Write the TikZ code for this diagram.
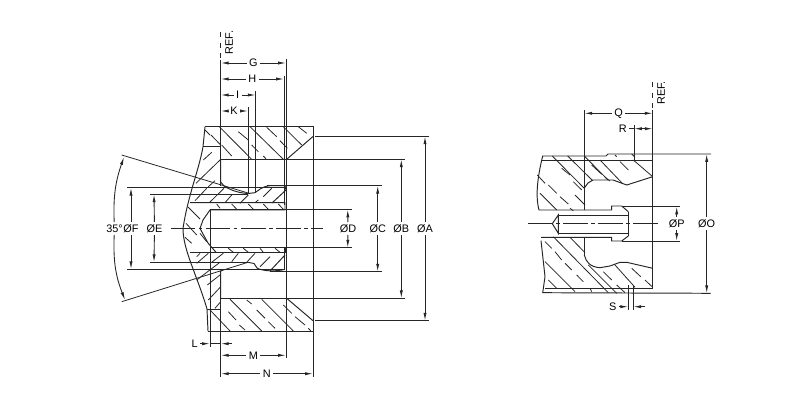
\documentclass[tikz,border=0pt]{standalone}
\usepackage{fontspec}
\setmainfont{Liberation Sans}
\usetikzlibrary{arrows.meta}
\tikzset{
  part/.style={black!85,line width=0.55pt},
  thin line/.style={black!85,line width=0.45pt},
  hatch/.style={black!85,line width=0.45pt},
  dim/.style={black!85,line width=0.5pt,-{Latex[length=4.5pt,width=1.8pt]}},
  dimboth/.style={black!85,line width=0.5pt,{Latex[length=4.5pt,width=1.8pt]}-{Latex[length=4.5pt,width=1.8pt]}},
  center line/.style={black!85,line width=0.45pt,dash pattern=on 14pt off 2pt on 2pt off 2pt},
  lbl/.style={inner sep=1.2pt,font=\fontsize{6.2}{7}\selectfont}
}
\begin{document}
\begin{tikzpicture}[x=0.02cm,y=0.02cm]
\useasboundingbox (0,0) rectangle (800,-408);
% left view: outline
\draw [part] (205,-126.7) -- (313,-126.7) -- (313,-331) -- (208,-331);
\draw [part] (205,-126.7) -- (203,-146.7) .. controls (199,-170) and (188,-195) .. (183,-228.5) .. controls (183,-250) and (197,-275) .. (207,-309) -- (208,-331);
\draw [part] (203,-146.7) -- (220.7,-146.7);
\draw [part] (207,-309.5) -- (220.7,-309.5);
\draw [part] (313,-136.5) -- (286.7,-159.3);
\draw [part] (313,-320.7) -- (286.7,-298.3);
% left view: cavity
\draw [part] (220.7,-159.3) -- (220.7,-182) -- (224,-186) .. controls (232,-191) and (240,-193) .. (248,-193.5) -- (255,-192.7) .. controls (259,-190) and (262,-186.5) .. (270,-185.7) -- (285,-185.7) -- (286,-190) -- (272,-203);
\draw [part] (220.7,-298.3) -- (220.7,-271) -- (224,-269.3);
\draw [part] (248,-262.3) -- (254,-263.5) -- (257,-268) .. controls (262,-271) and (275,-272) .. (285,-269.3);
\draw [part] (285,-255) -- (270,-271);
% left view: bore and tube
\draw [part] (190,-202.7) -- (285,-202.7) -- (285,-210) -- (210,-210) -- (203,-220) -- (200,-228.5) -- (208,-243) -- (216,-252.3);
\draw [part] (210,-247.7) -- (285,-247.7) -- (285,-252.3) -- (190,-252.3);
% left view: long horizontal and vertical lines
\draw [part] (220.7,-159.3) -- (405,-159.3);
\draw [part] (220.7,-298.3) -- (405,-298.3);
\draw [part] (315,-136.3) -- (429,-136.3);
\draw [part] (315,-320.7) -- (429,-320.7);
\draw [part] (267,-185.7) -- (381.7,-185.7);
\draw [part] (270,-271.7) -- (381.7,-271.7);
\draw [part] (210,-209.5) -- (351.7,-209.5);
\draw [part] (210,-247.7) -- (351.7,-247.7);
\draw [thin line] (127,-187.7) -- (285,-187.7);
\draw [thin line] (127,-269.3) -- (285,-269.3);
\draw [thin line] (150,-194.3) -- (248,-194.3);
\draw [thin line] (150,-262.3) -- (248,-262.3);
\draw [thin line] (121.7,-155) -- (248,-193);
\draw [thin line] (121.7,-301.7) -- (248,-262.3);
\draw [thin line] (286,-59) -- (286,-358);
\draw [thin line] (284,-76) -- (284,-205);
\draw [thin line] (284,-247) -- (284,-270);
\draw [thin line] (255.7,-91) -- (255.7,-192.7);
\draw [thin line] (248,-107) -- (248,-193);
\draw [thin line] (210,-210) -- (210,-347);
\draw [thin line] (220.7,-60) -- (220.7,-186);
\draw [thin line,dashed] (220.7,-32) -- (220.7,-60);
\draw [thin line] (220.7,-271) -- (220.7,-377);
\draw [thin line] (313,-331) -- (313,-377);
\draw [center line] (170.7,-228.5) -- (322.7,-228.5);
% left view: section lines
\foreach \xa/\ya/\xb/\yb in {
  219.3/126.7/251.7/159.3, 250/126.7/283.3/159.3, 283.3/126.7/301.7/145,
  221.7/145/231.7/156, 238.3/131.7/248.3/140, 251.7/145/258.3/151.7,
  263.3/156/266/158.7, 266.7/127.3/276.7/136.7, 280/140.7/287.3/148.3,
  298.3/126.7/306.7/133.3, 211/135/220.7/145, 205/130/210/135,
  211.7/152.3/203.3/160, 220/160/196/183.3, 215/180.7/208.3/186.7,
  224/188.3/209.3/202.7, 206.7/188.3/195/200.7, 248.3/195/240/203.3,
  231.7/195/225/202.7, 271.7/188.3/263.3/196.7, 258.3/200/255/202.7,
  216.7/204/220/208.3, 231.7/204/236.7/209.3, 248.3/204/253.3/209.3,
  263.3/204/268.3/209.3, 278.3/204/283.3/209.3, 188/207/200/219,
  186/223.3/196.7/235, 185/237.3/191.7/243.3, 200/233.3/206.7/241.7,
  228.3/248.3/233.3/252.3, 243.3/248.3/248.3/252.3, 260/248.3/263.3/252.3,
  275/248.3/280/252.3, 200/253.3/196.7/256.7, 208.3/253.3/196.7/263.3,
  223.3/253.3/211.7/262.3, 238.3/253.3/231.7/261.7, 255/253.3/246.7/262.3,
  270/256.7/260/266.7, 220/262.3/196.7/280, 220/275/207.3/285,
  220.7/286.7/208.3/300, 220.7/301.7/215/308.3,
  230/299.3/261.7/331, 261.7/299.3/293.3/331, 210/310/230/331,
  246.7/300/251.7/304, 256.7/310/265/318.3, 268.3/321.7/275/328.3,
  228.3/311.7/236/320, 239.3/325/245/330, 283.3/305/291.7/313.3,
  295/316.7/305/325, 308.3/328.3/310.7/330.7}
  \draw [hatch] (\xa,-\ya) -- (\xb,-\yb);
% left view: dimensions
\node [lbl] (refA) at (229,-42.5) [rotate=90] {REF.};
\node [lbl] (labG) at (253.3,-63) {G};
\node [lbl] (labH) at (252.3,-79) {H};
\node [lbl] (labI) at (237.7,-95) {I};
\node [lbl] (labK) at (234,-111) {K};
\node [lbl] (labM) at (253.3,-355.3) {M};
\node [lbl] (labN) at (266.7,-373.7) {N};
\node [lbl] (labL) at (194.7,-343.7) {L};
\node [lbl] (labA) at (425,-228.5) {ØA};
\node [lbl] (labB) at (401.3,-228.5) {ØB};
\node [lbl] (labC) at (377.7,-228.5) {ØC};
\node [lbl] (labD) at (348,-228.5) {ØD};
\node [lbl] (labE) at (154.5,-228.5) {ØE};
\node [lbl] (labF) at (131,-228.5) {ØF};
\node [lbl] (labAng) at (114.5,-228.5) {35°};
\foreach \n/\y/\xl/\xr in {labG/63/220.7/286, labH/79/220.7/284, labI/95/220.7/255.7, labK/111/220.7/248, labM/355.3/220.7/286, labN/373.7/220.7/313} {
  \draw [dim] (\n) -- (\xl,-\y);
  \draw [dim] (\n) -- (\xr,-\y);
}
\foreach \n/\x/\yt/\yb in {labA/425/136.3/320.7, labB/401.3/159.3/298.3, labC/377.7/185.7/271.7, labD/347.7/209.5/247.7, labE/154/194.3/262.3, labF/131/187.7/269.3} {
  \draw [dim] (\n) -- (\x,-\yt);
  \draw [dim] (\n) -- (\x,-\yb);
}
\draw [dim] (labL) -- (210,-343.7);
\draw [dim] (232,-343.7) -- (220.7,-343.7);
\draw [thin line] (210,-343.7) -- (220.7,-343.7);
\draw [dim] (labAng) .. controls (113,-195) and (116,-180) .. (124,-157);
\draw [dim] (labAng) .. controls (113,-262) and (116,-277) .. (125,-300);
% right view: outline
\draw [part] (606,-156) -- (542.7,-156) .. controls (538,-175) and (535,-195) .. (539,-210) -- (611.7,-210) -- (611.7,-206) -- (621.7,-206) -- (628.3,-211.7);
\draw [part] (541,-237.3) -- (611.7,-237.3) -- (611.7,-241) -- (621.7,-241) -- (628.3,-236);
\draw [part] (541,-240.7) -- (545,-276.7) -- (542.7,-292.7) -- (710.7,-293.3);
\draw [part] (606,-156) -- (608,-154) -- (711,-154);
\draw [part] (541.7,-160) -- (652.7,-160);
\draw [part] (545,-288) -- (652.7,-288);
\draw [part] (584.3,-188) -- (588,-183) -- (593,-180) -- (613,-180) -- (626.7,-185) -- (652.7,-176.7);
\draw [part] (584.3,-255) .. controls (586,-262) and (590,-267) .. (600,-267.7) -- (610,-266) -- (620,-262.3) -- (626.7,-262.3) -- (652.7,-268.3);
\draw [part] (558.3,-215) -- (628.3,-215);
\draw [part] (558.3,-233.3) -- (628.3,-233.3);
\draw [part] (558.3,-215) -- (552.3,-223.7) -- (558.3,-233.3) -- cycle;
\draw [thin line] (628.3,-211.7) -- (628.3,-236);
\draw [thin line] (628.3,-285) -- (628.3,-310);
\draw [thin line] (633.3,-286) -- (633.3,-310);
\draw [thin line] (584.3,-110) -- (584.3,-210);
\draw [thin line] (584.3,-237.3) -- (584.3,-255);
\draw [thin line] (634,-125) -- (634,-160);
\draw [thin line,dashed] (652.7,-82) -- (652.7,-110);
\draw [thin line] (652.7,-110) -- (652.7,-288);
\draw [thin line] (621.7,-206.5) -- (680,-206.5);
\draw [thin line] (621.7,-241) -- (680,-241);
\draw [center line] (528,-223.7) -- (660,-223.7);
% right view: section lines
\foreach \xa/\ya/\xb/\yb in {
  552.3/156/584.3/188.3, 567.7/156/592.7/180.7, 584.3/156/608/180,
  600/160/622/183, 633.3/160/652.7/176.7, 591.7/165/601.7/174.3,
  605/177.3/610/181, 620/161.7/628.3/170, 615/155/616.7/156.7,
  631.7/154/635/157.3, 561.7/168.3/570/175, 573.3/181.7/581.7/190,
  537.3/175/545/183.3, 548.3/185/556.7/193.3, 560/196.7/568.3/204,
  570/208.3/573.3/210.7, 540/193.3/556.7/210, 575/195/585/205,
  553.3/236.7/608.3/292.7, 570/237.3/585/252.7, 588.3/265/616.7/293.3,
  545/261.7/575/291.7, 615/265/635/287.3, 631.7/268.3/640.7/276.7,
  645/280/652.7/287.3, 545/241.7/551.7/248.3, 555/251.7/561.7/260,
  565/263.3/571.7/270, 576.7/275/583.3/281.7, 590/288.3/591.7/291.7,
  548.3/280/556.7/288.3, 603.3/271.7/611.7/280, 616.7/285/625/292.7}
  \draw [hatch] (\xa,-\ya) -- (\xb,-\yb);
% right view: dimensions
\node [lbl] (refB) at (661,-93) [rotate=90] {REF.};
\node [lbl] (labQ) at (618.7,-113.3) {Q};
\node [lbl] (labR) at (622.7,-128.7) {R};
\node [lbl] (labS) at (612.7,-306.7) {S};
\node [lbl] (labP) at (676.7,-223.7) {ØP};
\node [lbl] (labO) at (706.7,-223.7) {ØO};
\draw [dim] (labQ) -- (584.3,-113.3);
\draw [dim] (labQ) -- (652.7,-113.3);
\draw [thin line] (labR) -- (634,-128.7);
\draw [dimboth] (634,-128.7) -- (652.7,-128.7);
\draw [dim] (labS) -- (628.3,-306.7);
\draw [dim] (645,-306.7) -- (633.3,-306.7);
\draw [dim] (labP) -- (676.7,-206.5);
\draw [dim] (labP) -- (676.7,-241);
\draw [dim] (labO) -- (706.7,-154);
\draw [dim] (labO) -- (706.7,-293.3);
\end{tikzpicture}
\end{document}
